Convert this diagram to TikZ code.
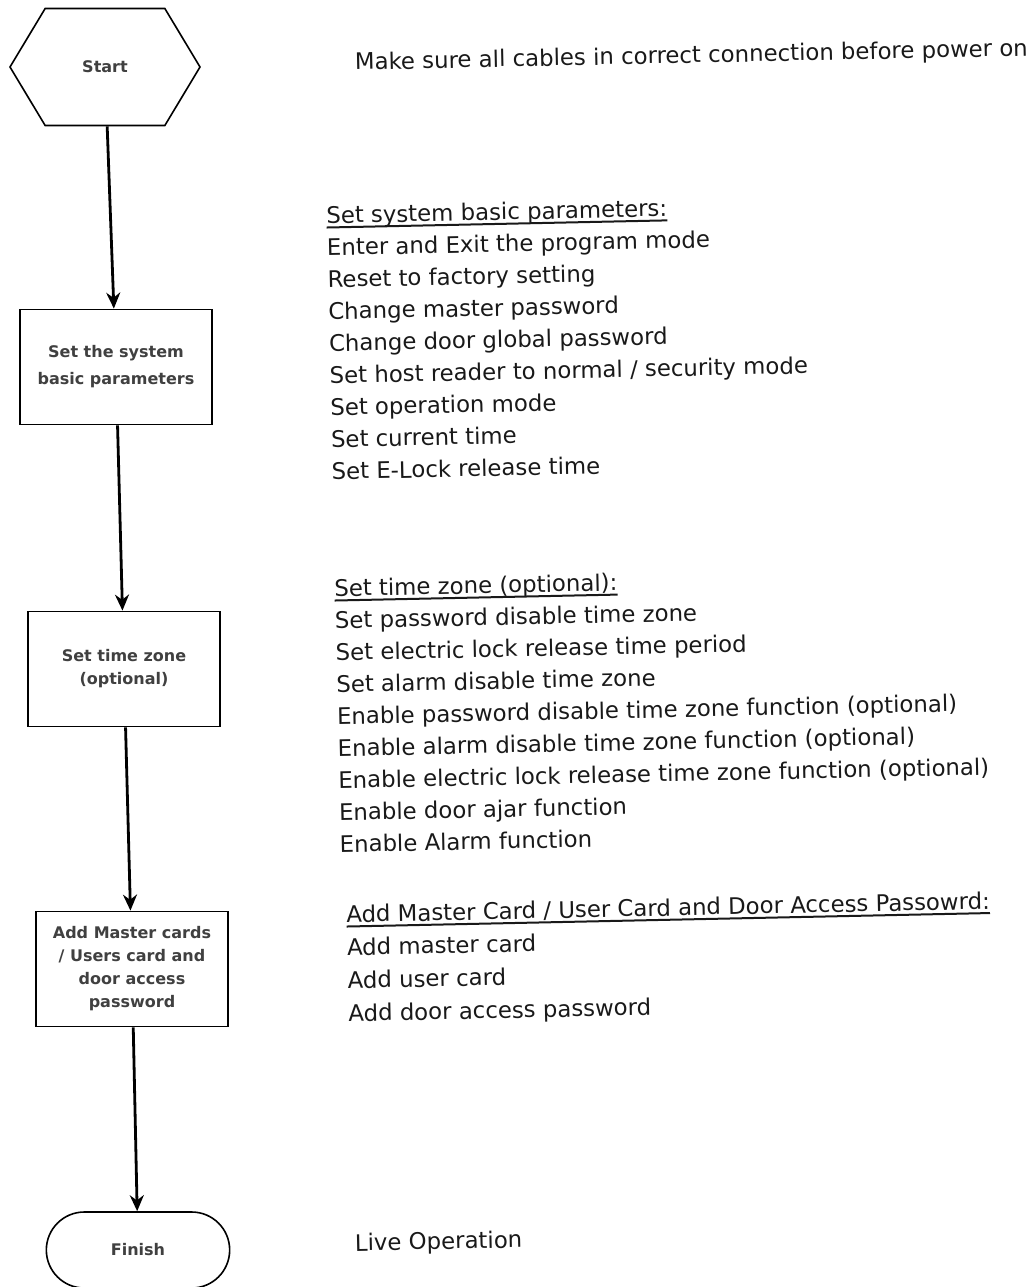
\documentclass[tikz,border=0pt]{standalone}
\usepackage{fontspec}
\setmainfont{DejaVu Sans}
\usetikzlibrary{positioning, shapes.symbols, shapes.misc, arrows.meta}

% underlined heading of a note block
\newcommand{\ulhead}[1]{\setbox0\hbox{#1}\rlap{\rule[-5pt]{\wd0}{2pt}}\box0}

\begin{document}
\begin{tikzpicture}[
    x=1pt, y=-1pt,
    flowbox/.style={rectangle, draw, line width=1.8pt, minimum width=192pt, minimum height=115pt, align=center, text=black!75, font=\fontsize{16}{23}\selectfont\bfseries},
    startbox/.style={signal, signal to=west and east, signal pointer angle=118, draw, line width=1.6pt, minimum width=190pt, minimum height=117pt, text=black!75, font=\fontsize{16}{20}\selectfont\bfseries},
    endbox/.style={rounded rectangle, draw, line width=1.6pt, minimum width=190pt, minimum height=76pt, text=black!75, font=\fontsize{16}{20}\selectfont\bfseries},
    arrow/.style={-{Stealth[length=16pt,width=14pt]}, line width=2.8pt},
    note/.style={anchor=north west, inner sep=0pt, rotate=1.2, align=left, text=black!90, font=\fontsize{22.8}{32}\selectfont}
]
\useasboundingbox (0,0) rectangle (1035,1287);

% Flow
\node[startbox] (start) at (105,67) {Start};
\node[flowbox, font=\fontsize{16}{27}\selectfont\bfseries] (basic) at (116,367) {Set the system\\basic parameters};
\node[flowbox] (zone) at (124,669) {Set time zone\\(optional)};
\node[flowbox] (cards) at (132,969) {Add Master cards\\/ Users card and\\door access\\password};
\node[endbox] (finish) at (138,1250) {Finish};

\draw[arrow] (start) -- (basic);
\draw[arrow] (basic) -- (zone);
\draw[arrow] (zone) -- (cards);
\draw[arrow] (cards) -- (finish);

% Notes
\node[note, anchor=base west] (powernote) at (355,70) {Make sure all cables in correct connection before power on};
\node[note] (sysnote) at (326,206) {\ulhead{Set system basic parameters:}\\
    Enter and Exit the program mode\\
    Reset to factory setting\\
    Change master password\\
    Change door global password\\
    Set host reader to normal / security mode\\
    Set operation mode\\
    Set current time\\
    Set E-Lock release time};
\node[note] (zonenote) at (334,579) {\ulhead{Set time zone (optional):}\\
    Set password disable time zone\\
    Set electric lock release time period\\
    Set alarm disable time zone\\
    Enable password disable time zone function (optional)\\
    Enable alarm disable time zone function (optional)\\
    Enable electric lock release time zone function (optional)\\
    Enable door ajar function\\
    Enable Alarm function};
\node[note, font=\fontsize{22.8}{33}\selectfont] (cardnote) at (346,905) {\ulhead{Add Master Card / User Card and Door Access Passowrd:}\\
    Add master card\\
    Add user card\\
    Add door access password};
\node[note, anchor=base west] (livenote) at (355,1251) {Live Operation};
\end{tikzpicture}
\end{document}
